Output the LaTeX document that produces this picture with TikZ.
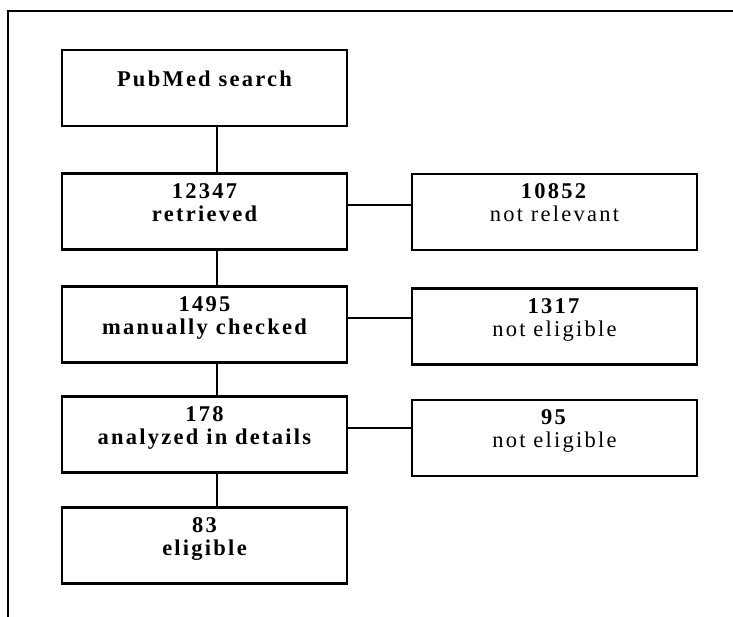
\documentclass[tikz,border=0pt]{standalone}
\usepackage{fontspec}
\setmainfont{Liberation Serif}[LetterSpace=10]
\usepackage{tikz}
\usetikzlibrary{positioning,calc}

\begin{document}
\begin{tikzpicture}[x=0.025cm, y=-0.025cm,
  box/.style={draw, line width=1.5pt, align=center, inner sep=0pt, minimum width=7.125cm, minimum height=1.9cm, text depth=13pt, font=\fontsize{16}{16.5}\selectfont\bfseries},
  side/.style={box, font=\fontsize{16}{16.5}\selectfont},
  link/.style={line width=1.2pt}]
  \useasboundingbox (0,0) rectangle (733,617);
  \draw[link] (733,11) -- (8,11) -- (8,617);
  % main column
  \node[box] (pub) at (204.5,88) {PubMed search};
  \node[box] (ret) at (204.5,211.5) {12347\\retrieved};
  \node[box] (man) at (204.5,324.5) {1495\\manually checked};
  \node[box] (ana) at (204.5,434.5) {178\\analyzed in details};
  \node[box] (eli) at (204.5,545.5) {83\\eligible};
  % excluded
  \node[side] (nrel) at (554.5,212) {\textbf{10852}\\not relevant};
  \node[side] (nel1) at (554.5,326.5) {\textbf{1317}\\not eligible};
  \node[side] (nel2) at (554.5,438) {\textbf{95}\\not eligible};
  \draw[link] ([xshift=0.31cm]pub.south) -- ([xshift=0.31cm]ret.north);
  \draw[link] ([xshift=0.31cm]ret.south) -- ([xshift=0.31cm]man.north);
  \draw[link] ([xshift=0.31cm]man.south) -- ([xshift=0.31cm]ana.north);
  \draw[link] ([xshift=0.31cm]ana.south) -- ([xshift=0.31cm]eli.north);
  \draw[link] ([yshift=0.16cm]ret.east) -- ([yshift=0.16cm]ret.east -| nrel.west);
  \draw[link] ([yshift=0.16cm]man.east) -- ([yshift=0.16cm]man.east -| nel1.west);
  \draw[link] ([yshift=0.16cm]ana.east) -- ([yshift=0.16cm]ana.east -| nel2.west);
\end{tikzpicture}
\end{document}
